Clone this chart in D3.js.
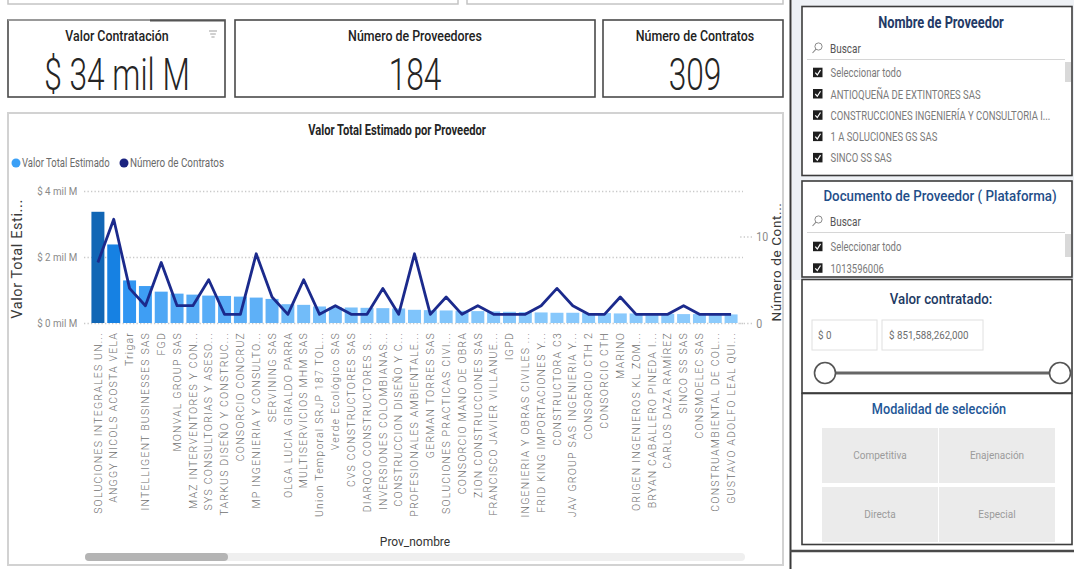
<!DOCTYPE html>
<html lang="es">
<head>
<meta charset="utf-8">
<title>Valor Total Estimado por Proveedor</title>
<script src="https://cdn.jsdelivr.net/npm/d3@7"></script>
<style>
  html, body { margin: 0; padding: 0; background: #fff; }
  svg { display: block; }
  text { font-family: Roboto, 'Liberation Sans', sans-serif; }
</style>
</head>
<body>
<svg id="dash" width="1074" height="569"></svg>
<script>
// Datos del gráfico
const proveedores = [
    "SOLUCIONES INTEGRALES UN...", "ANGGY NICOLS ACOSTA VELA", "Trigar", "INTELLIGENT BUSINESSES SAS",
    "FGD", "MONVAL GROUP SAS", "MAZ INTERVENTORES Y CON...", "SYS CONSULTORIAS Y ASESO...",
    "TARKUS DISEÑO Y CONSTRUC...", "CONSORCIO CONCRUZ", "MP INGENIERIA Y CONSULTO...", "SERVINING SAS",
    "OLGA LUCIA GIRALDO PARRA", "MULTISERVICIOS MHM SAS", "Union Temporal SRJP 187 TOL...", "Verde Ecológico SAS",
    "CVS CONSTRUCTORES SAS", "DIARQCO CONSTRUCTORES S...", "INVERSIONES COLOMBIANAS...", "CONSTRUCCION DISEÑO Y C...",
    "PROFESIONALES AMBIENTALE...", "GERMAN TORRES SAS", "SOLUCIONES PRACTICAS CIVI...", "CONSORCIO MANO DE OBRA",
    "ZION CONSTRUCCIONES SAS", "FRANCISCO JAVIER VILLANUE...", "IGPD", "INGENIERIA Y OBRAS CIVILES ...",
    "FRID KING IMPORTACIONES Y...", "CONSTRUCTORA C3", "JAV GROUP SAS INGENIERIA Y...", "CONSORCIO CTH 2",
    "CONSORCIO CTH", "MARINO", "ORIGEN INGENIEROS KL ZOM...", "BRYAN CABALLERO PINEDA I...",
    "CARLOS DAZA RAMÍREZ", "SINCO SS SAS", "CONSMOELEC SAS", "CONSTRUAMBIENTAL DE COL...",
    "GUSTAVO ADOLFO LEAL QUI..."
];

// Valor Total Estimado en miles de millones (mil M)
const valorTotal = [
    3.37, 2.38, 1.29, 1.12, 0.95, 0.89, 0.86, 0.83, 0.82, 0.80, 0.77, 0.73, 0.57, 0.55,
    0.50, 0.48, 0.47, 0.46, 0.45, 0.44, 0.40, 0.39, 0.38, 0.37, 0.36, 0.35, 0.34, 0.33,
    0.32, 0.31, 0.31, 0.30, 0.30, 0.29, 0.29, 0.28, 0.28, 0.27, 0.27, 0.26, 0.26
];

const numContratos = [
    7, 12, 4, 2, 7, 2, 2, 5, 1, 1, 8, 3, 1, 5,
    1, 2, 1, 1, 4, 1, 8, 1, 3, 1, 2, 1, 1, 1,
    2, 4, 2, 1, 1, 3, 1, 1, 1, 2, 1, 1, 1
];

const leftTicks = [0, 2, 4];
const leftTickLabels = ["$ 0 mil M", "$ 2 mil M", "$ 4 mil M"];
const rightTicks = [0, 10];

const kpiTitles = ["Valor Contratación", "Número de Proveedores", "Número de Contratos"];
const kpiValues = ["$ 34 mil M", "184", "309"];

const proveedorItems = ["Seleccionar todo", "ANTIOQUEÑA DE EXTINTORES SAS", "CONSTRUCCIONES INGENIERÍA Y CONSULTORIA I...", "1 A SOLUCIONES GS SAS", "SINCO SS SAS"];
const documentoItems = ["Seleccionar todo", "1013596006"];
const rangoValor = ["$ 0", "$ 851,588,262,000"];
const modalidades = ["Competitiva", "Enajenación", "Directa", "Especial"];

const svg = d3.select('#dash');

// texto "condensado": escala horizontal para imitar la fuente de Power BI
function ctext(parent, str, x, y, o) {
    const g = parent.append('g').attr('transform', `translate(${x},${y}) scale(${o.sx || 1},1)`);
    return g.append('text')
        .attr('text-anchor', o.anchor || 'start')
        .attr('font-size', o.size || 12)
        .attr('font-weight', o.weight || 400)
        .attr('letter-spacing', o.ls || 0)
        .attr('fill', o.fill || '#333')
        .text(str);
}

// ---- franjas superiores cortadas ----
svg.append('rect').attr('x', 8).attr('y', -8).attr('width', 450).attr('height', 12)
    .attr('fill', '#fff').attr('stroke', '#c4c4c4').attr('stroke-width', 1.5);
svg.append('rect').attr('x', 467).attr('y', -8).attr('width', 316).attr('height', 12)
    .attr('fill', '#fff').attr('stroke', '#c4c4c4').attr('stroke-width', 1.5);

// ---- tarjetas KPI ----
const cards = [
    { x: 8, w: 217, cx: 117 },
    { x: 235, w: 360, cx: 415 },
    { x: 603, w: 180, cx: 695 }
];
cards.forEach((c, i) => {
    svg.append('rect').attr('x', c.x).attr('y', 20).attr('width', c.w).attr('height', 77)
        .attr('fill', '#fff').attr('stroke', '#4a4a4a').attr('stroke-width', 1.6);
    ctext(svg, kpiTitles[i], c.cx, 41, { size: 15.5, weight: 500, sx: 0.8, anchor: 'middle', fill: '#222' });
    ctext(svg, kpiValues[i], c.cx, 90, { size: 44, weight: 300, sx: 0.72, anchor: 'middle', fill: '#252525' });
});
svg.append('line').attr('x1', 8).attr('x2', 225).attr('y1', 20).attr('y2', 20)
    .attr('stroke', '#a8a8a8').attr('stroke-width', 1.6);
svg.append('line').attr('x1', 150).attr('x2', 225).attr('y1', 20.5).attr('y2', 20.5)
    .attr('stroke', '#555').attr('stroke-width', 2);
// icono de filtro
[0, 3, 6].forEach((d, i) => {
    svg.append('line').attr('x1', 209 + i * 1.2).attr('x2', 217 - i * 1.2)
        .attr('y1', 31 + d).attr('y2', 31 + d).attr('stroke', '#b0b0b0').attr('stroke-width', 1.2);
});

// ---- panel del gráfico ----
svg.append('rect').attr('x', 8).attr('y', 113).attr('width', 775).attr('height', 452)
    .attr('fill', '#fff').attr('stroke', '#d2d2d2').attr('stroke-width', 2);

ctext(svg, 'Valor Total Estimado por Proveedor', 397, 135, { size: 14, weight: 700, sx: 0.8, anchor: 'middle', fill: '#252525' });

// leyenda
svg.append('circle').attr('cx', 16).attr('cy', 163).attr('r', 4.5).attr('fill', '#3ba0f6');
ctext(svg, 'Valor Total Estimado', 22, 167, { size: 12.5, sx: 0.76, fill: '#6a6a6a' });
svg.append('circle').attr('cx', 124).attr('cy', 163).attr('r', 4.5).attr('fill', '#1b2380');
ctext(svg, 'Número de Contratos', 130, 167, { size: 12.5, sx: 0.79, fill: '#6a6a6a' });

const x = d3.scaleBand().domain(proveedores).range([90, 739]).paddingInner(0.18).paddingOuter(0.09);
const yLeft = d3.scaleLinear().domain([0, 4]).range([323, 191]);
const yRight = d3.scaleLinear().domain([0, 10]).range([323, 236.5]);
const color = d3.scaleLinear()
    .domain([0.26, 1.3, 2.4, 3.37])
    .range(['#8ccbfc', '#2e94f2', '#1681e3', '#1166b5']);

// eje izquierdo + cuadrícula punteada
const gLeft = svg.append('g').attr('transform', 'translate(84,0)')
    .call(d3.axisLeft(yLeft).tickValues(leftTicks)
        .tickFormat((d, i) => leftTickLabels[i])
        .tickSizeInner(-659).tickSizeOuter(0).tickPadding(7));
gLeft.select('.domain').remove();
gLeft.selectAll('.tick line').attr('stroke', '#c9c9c9').attr('stroke-width', 1.3).attr('stroke-dasharray', '1.3,2.2');
gLeft.selectAll('.tick text').attr('font-family', 'Roboto, sans-serif').attr('font-size', 11.5)
    .attr('fill', '#8a8a8a').attr('transform', 'scale(0.85,1)').attr('x', -8);

// eje derecho
const gRight = svg.append('g').attr('transform', 'translate(752,0)')
    .call(d3.axisRight(yRight).tickValues(rightTicks).tickSizeInner(-12).tickSizeOuter(0).tickPadding(5));
gRight.select('.domain').remove();
gRight.selectAll('.tick line').attr('stroke', '#c9c9c9').attr('stroke-width', 1.3).attr('stroke-dasharray', '1.3,2.2');
gRight.selectAll('.tick text').attr('font-family', 'Roboto, sans-serif').attr('font-size', 12.5)
    .attr('fill', '#8a8a8a').attr('transform', 'scale(0.85,1)');

// barras
svg.append('g').selectAll('rect')
    .data(proveedores)
    .enter()
    .append('rect')
    .attr('x', d => x(d))
    .attr('width', x.bandwidth())
    .attr('y', (d, i) => yLeft(valorTotal[i]))
    .attr('height', (d, i) => yLeft(0) - yLeft(valorTotal[i]))
    .attr('fill', (d, i) => color(valorTotal[i]));

// línea de número de contratos
const linea = d3.line()
    .x((d, i) => x(proveedores[i]) + x.bandwidth() / 2)
    .y(d => yRight(d));
svg.append('path')
    .datum(numContratos)
    .attr('d', linea)
    .attr('fill', 'none')
    .attr('stroke', '#1b2a8c')
    .attr('stroke-width', 2.8)
    .attr('stroke-linejoin', 'round');

// etiquetas del eje X
const gX = svg.append('g').attr('transform', 'translate(0,332)')
    .call(d3.axisBottom(x).tickSize(0));
gX.select('.domain').remove();
gX.selectAll('.tick text')
    .attr('transform', 'rotate(-90)')
    .attr('text-anchor', 'end')
    .attr('x', 0).attr('y', 0).attr('dy', '0.35em')
    .attr('font-family', 'Roboto, sans-serif')
    .attr('font-size', 10.5)
    .attr('font-weight', 300)
    .attr('letter-spacing', 1.2)
    .attr('fill', '#6f6f6f');

// títulos de ejes
svg.append('text').attr('transform', 'translate(17,259) rotate(-90)')
    .attr('text-anchor', 'middle').attr('dy', '0.35em')
    .attr('font-size', 14.5).attr('letter-spacing', 0.6).attr('fill', '#3a3a3a')
    .text('Valor Total Esti...');
svg.append('text').attr('transform', 'translate(776,262) rotate(-90)')
    .attr('text-anchor', 'middle').attr('dy', '0.35em')
    .attr('font-size', 13.5).attr('letter-spacing', 0.6).attr('fill', '#3a3a3a')
    .text('Número de Cont...');
ctext(svg, 'Prov_nombre', 415, 546, { size: 13, sx: 0.92, anchor: 'middle', fill: '#333' });

// barra de desplazamiento
svg.append('rect').attr('x', 85).attr('y', 553).attr('width', 660).attr('height', 8).attr('rx', 4).attr('fill', '#efefef');
svg.append('rect').attr('x', 85).attr('y', 553).attr('width', 143).attr('height', 8).attr('rx', 4).attr('fill', '#b4b4b4');

// separador vertical
svg.append('line').attr('x1', 790.5).attr('x2', 790.5).attr('y1', 0).attr('y2', 569)
    .attr('stroke', '#3a3a3a').attr('stroke-width', 2);

// ---- segmentadores (derecha) ----
svg.append('rect').attr('x', 792).attr('y', 0).attr('width', 282).attr('height', 280).attr('fill', '#eef1f5');

function panel(y, h) {
    svg.append('rect').attr('x', 802).attr('y', y).attr('width', 270).attr('height', h)
        .attr('fill', '#fff').attr('stroke', '#3c3c3c').attr('stroke-width', 1.6);
}
function searchBox(y) {
    svg.append('circle').attr('cx', 818.5).attr('cy', y - 2.5).attr('r', 3.6)
        .attr('fill', 'none').attr('stroke', '#8a8a8a').attr('stroke-width', 1);
    svg.append('line').attr('x1', 816).attr('y1', y + 0.2).attr('x2', 812.5).attr('y2', y + 4)
        .attr('stroke', '#8a8a8a').attr('stroke-width', 1.1);
    ctext(svg, 'Buscar', 830, y + 4, { size: 12, sx: 0.83, fill: '#555' });
    svg.append('line').attr('x1', 807).attr('x2', 1065).attr('y1', y + 10.5).attr('y2', y + 10.5)
        .attr('stroke', '#d6d6d6').attr('stroke-width', 1.2);
}
function checkItem(label, y) {
    svg.append('rect').attr('x', 813).attr('y', y - 5).attr('width', 9.5).attr('height', 9.5).attr('fill', '#1e1e1e');
    svg.append('path').attr('d', `M815.3,${y} L817.3,${y + 2.3} L820.5,${y - 2.8}`)
        .attr('fill', 'none').attr('stroke', '#fff').attr('stroke-width', 1.2);
    ctext(svg, label, 830.5, y + 4.5, { size: 12.5, sx: 0.76, fill: '#7a7a7a' });
}

// Nombre de Proveedor
panel(6.5, 169);
ctext(svg, 'Nombre de Proveedor', 941, 27.5, { size: 16, weight: 700, sx: 0.8, anchor: 'middle', fill: '#243a66' });
searchBox(49);
svg.append('rect').attr('x', 1065).attr('y', 62).attr('width', 6).attr('height', 20).attr('fill', '#d9d9d9');
proveedorItems.forEach((d, i) => checkItem(d, 72.7 + i * 21.3));

// Documento de Proveedor
panel(181, 96);
ctext(svg, 'Documento de Proveedor ( Plataforma)', 940, 200.5, { size: 15.5, weight: 500, sx: 0.86, anchor: 'middle', fill: '#1f4e89' });
searchBox(222);
svg.append('rect').attr('x', 1065).attr('y', 234).attr('width', 6).attr('height', 23).attr('fill', '#d9d9d9');
documentoItems.forEach((d, i) => checkItem(d, 246.7 + i * 21.6));

// Valor contratado
panel(279.5, 113.5);
ctext(svg, 'Valor contratado:', 941, 303.5, { size: 15.5, weight: 500, sx: 0.86, anchor: 'middle', fill: '#1d3a63' });
svg.append('rect').attr('x', 812).attr('y', 320).attr('width', 65).attr('height', 30)
    .attr('fill', '#fff').attr('stroke', '#e0e0e0');
svg.append('rect').attr('x', 882).attr('y', 320).attr('width', 101).attr('height', 30)
    .attr('fill', '#fff').attr('stroke', '#e0e0e0');
ctext(svg, rangoValor[0], 818, 339, { size: 11.5, sx: 0.85, fill: '#6d6d6d' });
ctext(svg, rangoValor[1], 889, 339, { size: 11.5, sx: 0.85, fill: '#6d6d6d' });
svg.append('line').attr('x1', 830).attr('x2', 1056).attr('y1', 373).attr('y2', 373)
    .attr('stroke', '#666').attr('stroke-width', 3);
[825, 1060].forEach(cx => {
    svg.append('circle').attr('cx', cx).attr('cy', 373).attr('r', 10.5)
        .attr('fill', '#fff').attr('stroke', '#555').attr('stroke-width', 1.6);
});

// Modalidad de selección
panel(393.5, 151);
ctext(svg, 'Modalidad de selección', 939, 413.5, { size: 15.5, weight: 500, sx: 0.82, anchor: 'middle', fill: '#1f5797' });
modalidades.forEach((d, i) => {
    const bx = 822 + (i % 2) * 117;
    const by = 428 + Math.floor(i / 2) * 59;
    svg.append('rect').attr('x', bx).attr('y', by).attr('width', 116).attr('height', 55).attr('fill', '#ebebeb');
    ctext(svg, d, bx + 58, by + 31, { size: 10, anchor: 'middle', fill: '#9b9b9b' });
});
svg.append('line').attr('x1', 790).attr('x2', 1074).attr('y1', 551).attr('y2', 551)
    .attr('stroke', '#4a4a4a').attr('stroke-width', 2.5);
</script>
</body>
</html>
